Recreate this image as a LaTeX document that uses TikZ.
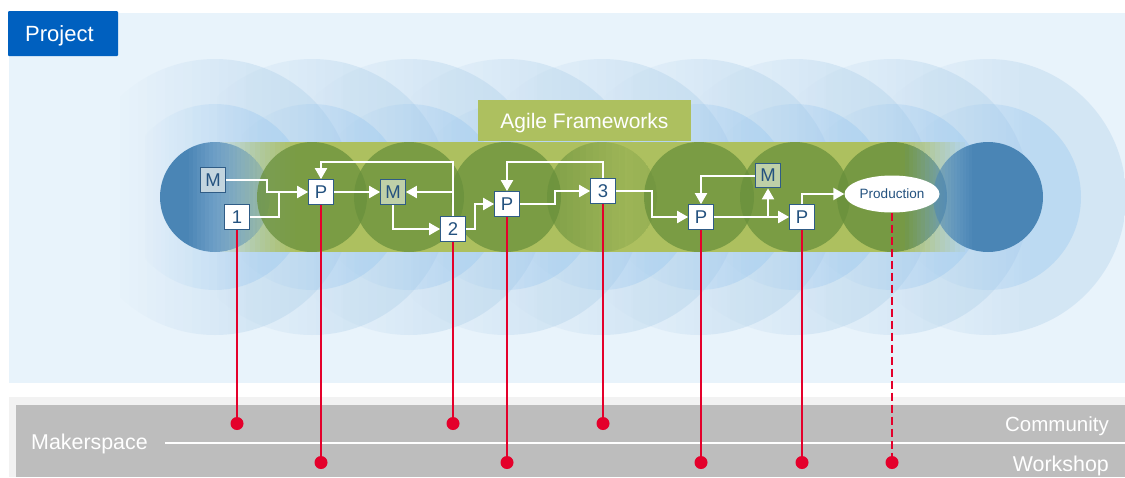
\documentclass[tikz,border=0pt]{standalone}
\usepackage{fontspec}
\setmainfont{Liberation Sans}
\usetikzlibrary{arrows.meta,shapes.geometric}
\definecolor{bgblue}{HTML}{E8F3FB}
\definecolor{projblue}{HTML}{0060BF}
\definecolor{bandgreen}{HTML}{ADC05F}
\definecolor{circgreen}{RGB}{105,144,60}
\definecolor{circblue}{HTML}{4A85B5}
\definecolor{ringouter}{RGB}{165,200,231}
\definecolor{ringmid}{RGB}{155,200,240}
\definecolor{stepline}{HTML}{2F5C86}
\definecolor{steptext}{HTML}{24527F}
\definecolor{redline}{HTML}{E4002B}
\definecolor{grayband}{HTML}{BDBDBD}
\definecolor{grayedge}{HTML}{F2F2F2}
\definecolor{mblue}{HTML}{C3D5DF}
\definecolor{mgreen}{HTML}{BFD0A8}
% linear alpha ramp built from side-by-side strips on whole pixels
% #1 colour, #2 x where alpha is 0, #3 x where alpha reaches #5, #4 far x, #5 alpha, #6 steps
\def\rtop{0}\def\rbot{477}
\newcommand{\alpharamp}[6]{%
  \foreach \ii in {1,...,#6}{%
    \pgfmathsetmacro{\xx}{round(#2+(#3-#2)*(\ii-1)/#6)}%
    \pgfmathsetmacro{\xy}{round(#2+(#3-#2)*\ii/#6)}%
    \pgfmathsetmacro{\aa}{#5*\ii/#6}%
    \fill[#1,fill opacity=\aa] (\xx,\rtop) rectangle (\xy,\rbot);
  }%
  \fill[#1,fill opacity=#5] (#3,\rtop) rectangle (#4,\rbot);
}
\tikzset{
  x=1pt,y=-1pt,
  stepbox/.style={draw=stepline,line width=1.2pt,fill=white,minimum size=24.5pt,inner sep=0pt,
    text=steptext,font=\fontsize{18.5}{18.5}\selectfont},
  lab/.style={text=white,inner sep=0pt},
  arr/.style={draw=white,line width=2pt,-{Triangle[length=11pt,width=12pt]}},
  plainw/.style={draw=white,line width=2pt},
  redc/.style={draw=redline,line width=2.3pt},
  dot/.style={circle,fill=redline,minimum size=13pt,inner sep=0pt},
}
\begin{document}
\begin{tikzpicture}
\useasboundingbox (0,0) rectangle (1125,477);
\fill[white] (0,0) rectangle (1125,477);
% panels
\fill[bgblue] (9,13) rectangle (1125,383);
\fill[grayedge] (9,397) rectangle (1125,477);
\fill[grayband] (16,405) rectangle (1125,477);
% ripple rings
\foreach \cx in {215,312,409,506,602,699,795,892,988}{
  \begin{scope}
    \clip (\cx,197) circle[radius=138];
    \pgfmathsetmacro{\xa}{int(\cx-95)}\pgfmathsetmacro{\xb}{int(\cx+40)}\pgfmathsetmacro{\xc}{int(\cx+140)}
    \alpharamp{ringouter}{\xa}{\xb}{\xc}{.3}{15}
  \end{scope}
}
\foreach \cx in {215,312,409,506,602,699,795,892,988}{
  \begin{scope}
    \clip (\cx,197) circle[radius=93];
    \pgfmathsetmacro{\xa}{int(\cx-70)}\pgfmathsetmacro{\xb}{int(\cx+50)}\pgfmathsetmacro{\xc}{int(\cx+95)}
    \alpharamp{ringmid}{\xa}{\xb}{\xc}{.4}{15}
  \end{scope}
}
% band
\fill[bandgreen] (478,100) rectangle (691,141);
\fill[bandgreen] (300,142) rectangle (895,252);
\begin{scope}
  \def\rtop{142}\def\rbot{252}
  \alpharamp{bandgreen}{215}{300}{300}{1}{17}
  \alpharamp{bandgreen}{965}{895}{895}{1}{14}
\end{scope}
% core circles
\begin{scope}
  \clip (215,197) circle[radius=55];
  \alpharamp{circblue}{285}{185}{155}{1}{25}
\end{scope}
\foreach \cx in {312,409,506,699,795}{
  \fill[circgreen,fill opacity=.75] (\cx,197) circle[radius=55];
}
\begin{scope}
  \clip (602,197) circle[radius=55];
  \fill[circgreen,fill opacity=.2] (602,197) circle[radius=55];
  \alpharamp{circgreen}{625}{547}{540}{.55}{12}
  \alpharamp{circgreen}{620}{660}{660}{.15}{6}
\end{scope}
\begin{scope}
  \clip (892,197) circle[radius=55];
  \alpharamp{circgreen}{960}{905}{830}{.8}{14}
  \alpharamp{circblue}{905}{960}{950}{.75}{14}
\end{scope}
\begin{scope}
  \clip (988,197) circle[radius=55];
  \alpharamp{circblue}{900}{975}{1045}{1}{25}
\end{scope}
% labels
\node[fill=projblue,minimum width=110pt,minimum height=45pt,inner sep=0pt,rounded corners=1pt] (project) at (63,33.5) {};
\node[lab,anchor=west,font=\fontsize{22}{22}\selectfont] (projectt) at (25,35.5) {Project};
\node[lab,anchor=center,font=\fontsize{21}{21}\selectfont] (agile) at (584.5,123) {Agile Frameworks};
\node[lab,anchor=west,font=\fontsize{21.4}{21.4}\selectfont] (maker) at (31,444) {Makerspace};
\node[lab,anchor=east,font=\fontsize{20.5}{20.5}\selectfont] (comm) at (1109,426) {Community};
\node[lab,anchor=east,font=\fontsize{21.4}{21.4}\selectfont] (work) at (1109,465.5) {Workshop};
\coordinate (lineA) at (165,443);
\coordinate (lineB) at (1125,443);
\draw[white,line width=1.8pt] (lineA) -- (lineB);
% step nodes
\node[stepbox,fill=mblue] (m1) at (213,180) {M};
\node[stepbox] (one) at (237,217) {1};
\node[stepbox] (p1) at (321,192) {P};
\node[stepbox,fill=mgreen] (m2) at (393,192) {M};
\node[stepbox] (two) at (453,229) {2};
\node[stepbox] (p2) at (507,204) {P};
\node[stepbox] (three) at (603,191) {3};
\node[stepbox] (p3) at (701,217) {P};
\node[stepbox,fill=mgreen] (m3) at (768,175.5) {M};
\node[stepbox] (p4) at (802,217) {P};
\node[ellipse,fill=white,minimum width=95pt,minimum height=37pt,inner sep=0pt,text=steptext,font=\fontsize{13.5}{13.5}\selectfont] (prod) at (892,194) {Production};
% dots and red connectors
\node[dot] (d1) at (237,423.5) {};
\node[dot] (d2) at (321,462.5) {};
\node[dot] (d3) at (453,423.5) {};
\node[dot] (d4) at (507,462.5) {};
\node[dot] (d5) at (603,423.5) {};
\node[dot] (d6) at (701,462.5) {};
\node[dot] (d7) at (802,462.5) {};
\node[dot] (d8) at (892,462.5) {};
\draw[redc] (one.south) -- (d1);
\draw[redc] (p1.south) -- (d2);
\draw[redc] (two.south) -- (d3);
\draw[redc] (p2.south) -- (d4);
\draw[redc] (three.south) -- (d5);
\draw[redc] (p3.south) -- (d6);
\draw[redc] (p4.south) -- (d7);
\draw[redc,dash pattern=on 8pt off 4pt] (prod.south) -- (d8);
% white connectors
\coordinate (j1) at (267,192);
\coordinate (j2) at (279,192);
\coordinate (t1) at (453,162);
\coordinate (b2) at (453,192);
\coordinate (k1) at (475,229);
\coordinate (k2) at (475,204);
\coordinate (k3) at (555,204);
\coordinate (k4) at (555,191);
\coordinate (t2) at (603,162);
\coordinate (k5) at (652,191);
\coordinate (k6) at (652,217);
\coordinate (b3) at (768,217);
\draw[arr] (m1.east) -| (j1) -- (p1.west);
\draw[plainw] (one.east) -| (j2);
\draw[arr] (p1.east) -- (m2.west);
\draw[arr] (two.north) -- (t1) -| (p1.north);
\draw[arr] (b2) -- (m2.east);
\draw[arr] (m2.south) |- (two.west);
\draw[arr] (two.east) -- (k1) -- (k2) -- (p2.west);
\draw[arr] (p2.east) -- (k3) -- (k4) -- (three.west);
\draw[arr] (three.north) -- (t2) -| (p2.north);
\draw[arr] (three.east) -- (k5) -- (k6) -- (p3.west);
\draw[arr] (p3.east) -- (p4.west);
\draw[arr] (b3) -- (m3.south);
\draw[arr] (m3.west) -| (p3.north);
\draw[arr] (p4.north) |- (prod.west);
\end{tikzpicture}
\end{document}
